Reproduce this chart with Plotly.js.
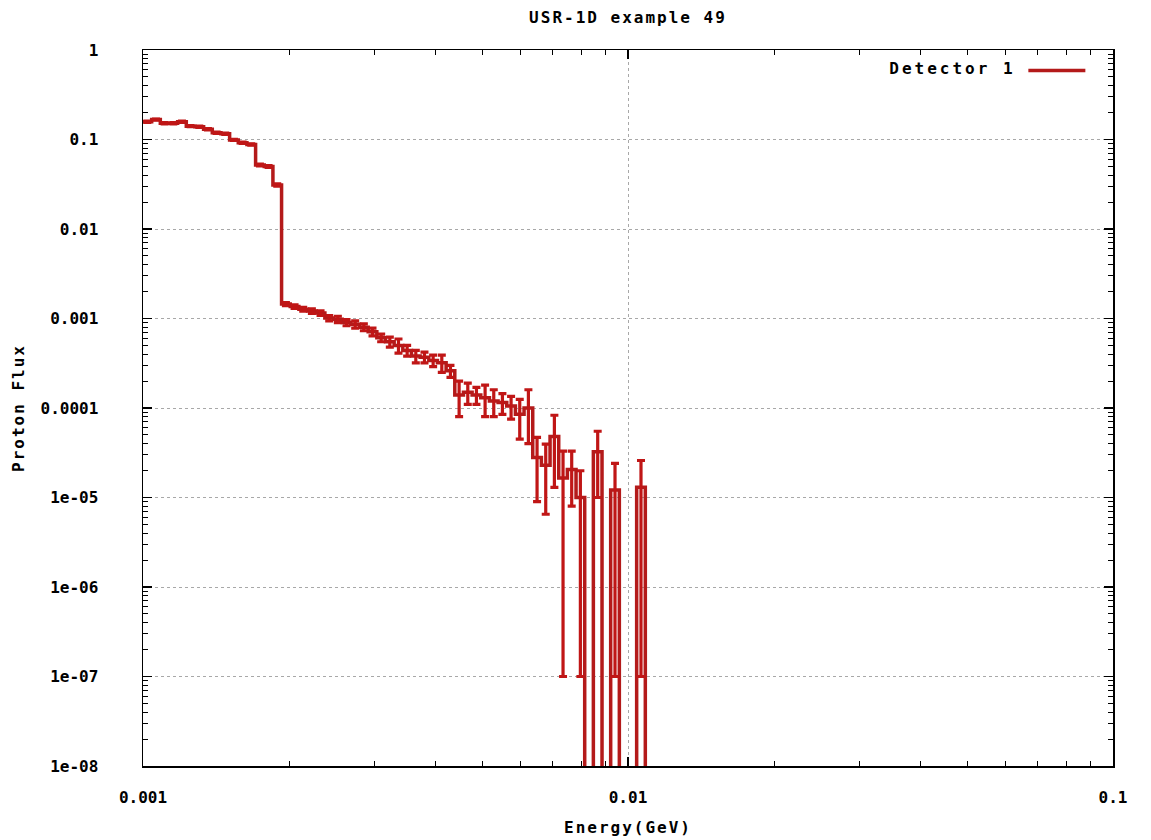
<!DOCTYPE html>
<html><head><meta charset="utf-8">
<script src="https://cdn.plot.ly/plotly-3.0.1.min.js"></script>
<style>
html,body{margin:0;padding:0;background:#fff;}
#chart{width:1151px;height:840px;}
.gtitle,.xtitle,.ytitle{letter-spacing:2px;}
.legendtitletext{letter-spacing:3px;}
.legend .legendlines path{transform:scaleX(0.95);}
</style></head><body><div id="chart"></div>
<script>
// Energy bin edges (GeV), log-spaced
const binEdgesGeV = [0.0010000, 0.0010420, 0.0010857, 0.0011313, 0.0011788, 0.0012282, 0.0012798, 0.0013335,
  0.0013895, 0.0014478, 0.0015086, 0.0015720, 0.0016379, 0.0017067, 0.0017783, 0.0018530, 0.0019307,
  0.0020118, 0.0020962, 0.0021842, 0.0022759, 0.0023714, 0.0024709, 0.0025746, 0.0026827, 0.0027953,
  0.0029126, 0.0030349, 0.0031623, 0.0032950, 0.0034333, 0.0035775, 0.0037276, 0.0038841, 0.0040471,
  0.0042170, 0.0043940, 0.0045784, 0.0047706, 0.0049709, 0.0051795, 0.0053969, 0.0056234, 0.0058595,
  0.0061054, 0.0063617, 0.0066288, 0.0069070, 0.0071969, 0.0074989, 0.0078137, 0.0081417, 0.0084834,
  0.0088395, 0.0092106, 0.0095972, 0.0100000, 0.0104197, 0.0108570];

// Proton flux per bin
const protonFlux = [0.158, 0.167, 0.152, 0.152, 0.158, 0.141, 0.139, 0.130, 0.119, 0.116,
  0.099, 0.092, 0.088, 0.052, 0.050, 0.031,
  0.00145, 0.00136, 0.00127, 0.00121, 0.00115, 0.00101, 0.00098, 0.00090, 0.00086, 0.00080,
  0.00071, 0.00061, 0.00055, 0.00050, 0.00044, 0.00038, 0.00037, 0.00034, 0.00032, 0.00026,
  0.00014, 0.00015, 0.00014, 0.00013, 0.00012, 0.000115, 0.000105, 0.000085, 0.00010,
  0.000028, 0.000023, 0.000048, 0.0000165, 0.0000205, 0.0000100, 0, 0.0000325, 0,
  0.0000121, 0, 0, 0.0000130];

// Statistical error per bin
const fluxError = [0.0024, 0.0025, 0.0023, 0.0023, 0.0024, 0.0021, 0.0021, 0.0020, 0.0018, 0.0018,
  0.0016, 0.0015, 0.0015, 0.0012, 0.0012, 0.0009,
  0.00006, 0.00006, 0.00006, 0.00007, 0.00007, 0.00007, 0.00008, 0.00007, 0.00008, 0.00007,
  0.00007, 0.00006, 0.00007, 0.00009, 0.00006, 0.00006, 0.00005, 0.00005, 0.00007, 0.00004,
  0.00006, 0.00004, 0.00003, 0.00005, 0.00004, 0.00003, 0.00003, 0.00004, 0.00006,
  0.000019, 0.0000165, 0.000035, 0.0000164, 0.0000125, 0.0000099, 0, 0.0000225, 0,
  0.0000120, 0, 0, 0.0000129];

const seriesName = 'Detector 1';
const chartTitle = 'USR-1D example 49';
const xTitle = 'Energy(GeV)';
const yTitle = 'Proton Flux';
const xTickVals = [0.001, 0.01, 0.1];
const xTickText = ['0.001', '0.01', '0.1'];
const yTickVals = [1, 0.1, 0.01, 0.001, 0.0001, 1e-5, 1e-6, 1e-7, 1e-8];
const yTickText = ['1', '0.1', '0.01', '0.001', '0.0001', '1e-05', '1e-06', '1e-07', '1e-08'];

const RED = '#b41a1a';
const RED_ERR = '#c01616';
const FLOOR = 1e-20; // empty bins drawn as falling off the bottom of the log axis

const stepX = binEdgesGeV.slice();
const stepY = protonFlux.map(v => v > 0 ? v : FLOOR).concat([FLOOR]);

const ebX = [], ebY = [], ebE = [];
protonFlux.forEach((v, i) => {
  if (v > 0) {
    ebX.push(Math.sqrt(binEdgesGeV[i] * binEdgesGeV[i + 1]));
    ebY.push(v);
    ebE.push(fluxError[i]);
  }
});

function minorTicks(d0, d1) {
  const out = [];
  for (let d = d0; d < d1; d++) for (let m = 2; m <= 9; m++) out.push(m * Math.pow(10, d));
  return out;
}

const fontMono = {family: 'DejaVu Sans Mono', size: 16, color: '#000', weight: 'bold'};
const fontTitle = {family: 'DejaVu Sans Mono', size: 16, color: '#000', weight: 'bold'};

const traces = [
  {
    type: 'scatter', mode: 'lines', name: '', x: stepX, y: stepY,
    line: {shape: 'hv', color: RED, width: 3.5}, showlegend: true, hoverinfo: 'skip'
  },
  {
    type: 'scatter', mode: 'markers', x: ebX, y: ebY, showlegend: false,
    marker: {size: 1, color: RED_ERR},
    error_y: {type: 'data', array: ebE, visible: true, color: RED_ERR, thickness: 3.2, width: 4}
  }
];

const axisCommon = {
  type: 'log', showline: true, linecolor: '#000', linewidth: 1.5, mirror: 'allticks',
  ticks: 'inside', ticklen: 9, tickwidth: 1.5, tickcolor: '#000',
  showgrid: true, gridcolor: '#a8a8a8', gridwidth: 1, griddash: '3px,3px',
  zeroline: false, tickmode: 'array', tickfont: fontMono,
};

const layout = {
  width: 1151, height: 840,
  margin: {l: 143, r: 38, t: 50, b: 74},
  paper_bgcolor: '#fff', plot_bgcolor: '#fff',
  title: {text: chartTitle, font: fontTitle, xref: 'paper', x: 0.5, xanchor: 'center', y: 0.979, yanchor: 'middle'},
  xaxis: Object.assign({}, axisCommon, {
    range: [-3, -1], tickvals: xTickVals, ticktext: xTickText, ticklabelstandoff: 16,
    minor: {tickmode: 'array', tickvals: minorTicks(-3, -1), ticks: 'inside', ticklen: 5, tickwidth: 1, tickcolor: '#000', showgrid: false},
    title: {text: xTitle, font: fontTitle, standoff: 16}
  }),
  yaxis: Object.assign({}, axisCommon, {
    range: [-8, 0], tickvals: yTickVals, ticktext: yTickText, ticklabelstandoff: 40,
    minor: {tickmode: 'array', tickvals: minorTicks(-8, 0), ticks: 'inside', ticklen: 5, tickwidth: 1, tickcolor: '#000', showgrid: false},
    title: {text: yTitle, font: fontTitle, standoff: 12}
  }),
  showlegend: true,
  legend: {
    orientation: 'h', x: 0.7673, xanchor: 'left', y: 0.995, yanchor: 'top',
    bgcolor: 'rgba(0,0,0,0)', font: fontMono, itemwidth: 60,
    title: {text: seriesName, side: 'left', font: fontMono}
  }
};

Plotly.newPlot('chart', traces, layout, {displayModeBar: false, staticPlot: true});
</script></body></html>
